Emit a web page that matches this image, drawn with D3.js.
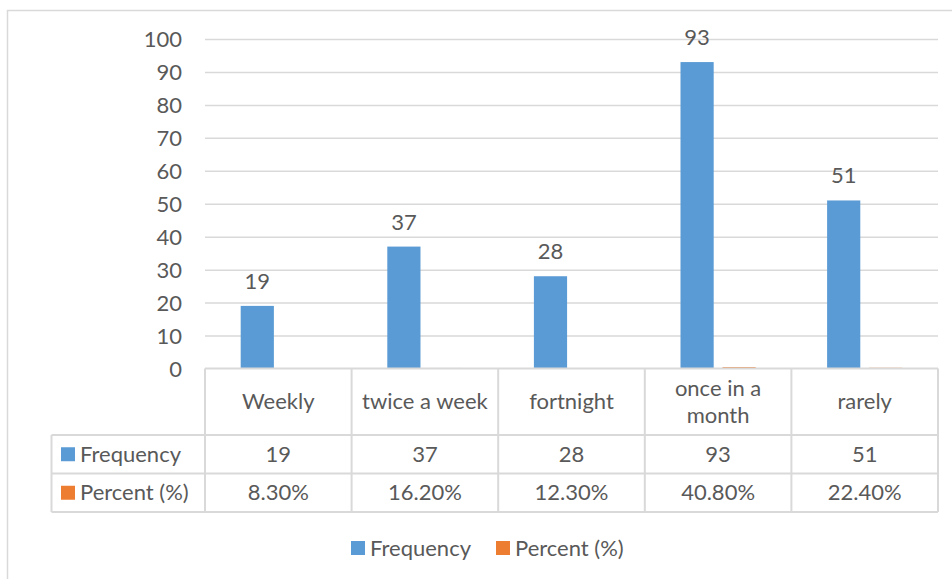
<!DOCTYPE html>
<html>
<head>
<meta charset="utf-8">
<script src="https://cdn.jsdelivr.net/npm/d3@7"></script>
<style>
  html, body { margin: 0; padding: 0; background: #fff; }
  svg text { font-family: Lato, "Open Sans", sans-serif; fill: #595959; }
</style>
</head>
<body>
<svg id="chart" width="952" height="579"></svg>
<script>
// Visit frequency survey: counts and share of respondents
const categories = ["Weekly", "twice a week", "fortnight", "once in a month", "rarely"];
const categoryLines = [["Weekly"], ["twice a week"], ["fortnight"], ["once in a", "month"], ["rarely"]];
const frequency = [19, 37, 28, 93, 51];
const percent = [0.083, 0.162, 0.123, 0.408, 0.224];
const percentLabels = ["8.30%", "16.20%", "12.30%", "40.80%", "22.40%"];
const seriesNames = ["Frequency", "Percent (%)"];
const seriesColors = ["#5B9BD5", "#ED7D31"];
const yTicks = [0, 10, 20, 30, 40, 50, 60, 70, 80, 90, 100];

const svg = d3.select("#chart");
const grid = "#d9d9d9";
const FS = 22;

// chart frame
svg.append("rect").attr("x", 7.5).attr("y", 10.5).attr("width", 960).attr("height", 600)
  .attr("fill", "none").attr("stroke", grid).attr("stroke-width", 1.5);

const plotL = 205, plotR = 938, plotT = 39, plotB = 368.5;

const x = d3.scaleBand().domain(categories).range([plotL, plotR]).paddingInner(0).paddingOuter(0);
const y = d3.scaleLinear().domain([0, 100]).range([plotB, plotT]);

// inner scale placing the two series inside each category
const inner = d3.scaleBand().domain(seriesNames)
  .range([x.bandwidth() * 0.2435, x.bandwidth() * 0.7565]).paddingInner(0.21).paddingOuter(0);

// gridlines and y labels via d3 axis
const yAxis = d3.axisLeft(y).tickValues(yTicks).tickSize(-(plotR - plotL)).tickPadding(23);
const gy = svg.append("g").attr("transform", `translate(${plotL},0)`).call(yAxis);
gy.select(".domain").remove();
gy.selectAll(".tick line").attr("stroke", grid).attr("stroke-width", 1.5)
  .filter(d => d === 0).remove();
gy.selectAll(".tick text").attr("font-size", FS).attr("font-family", "Lato, sans-serif")
  .attr("fill", "#595959").attr("dy", "0.35em");

// bars
const seriesData = [frequency, percent];
seriesData.forEach((vals, si) => {
  svg.append("g").selectAll("rect").data(vals).join("rect")
    .attr("x", (d, i) => x(categories[i]) + inner(seriesNames[si]))
    .attr("y", d => y(d))
    .attr("width", inner.bandwidth())
    .attr("height", d => Math.max(0, y(0) - y(d)))
    .attr("fill", seriesColors[si]);
});

// data labels on Frequency bars
svg.append("g").selectAll("text").data(frequency).join("text")
  .attr("x", (d, i) => x(categories[i]) + inner(seriesNames[0]) + inner.bandwidth() / 2)
  .attr("y", d => y(d) - 17)
  .attr("text-anchor", "middle").attr("font-size", FS)
  .text(d => d);

// data table under the plot
const rowTop = [plotB, 435, 473.5];
const rowBot = [435, 473.5, 512];
const tableLeft = 51.5;
const tg = svg.append("g");
const line = (x1, y1, x2, y2) => tg.append("line").attr("x1", x1).attr("y1", y1).attr("x2", x2).attr("y2", y2)
  .attr("stroke", grid).attr("stroke-width", 2);

// horizontal rules
line(plotL, plotB, plotR, plotB);
line(tableLeft, rowTop[1], plotR, rowTop[1]);
line(tableLeft, rowTop[2], plotR, rowTop[2]);
line(tableLeft, rowBot[2], plotR, rowBot[2]);
// vertical rules
categories.forEach(c => line(x(c), plotB, x(c), rowBot[2]));
line(plotR, plotB, plotR, rowBot[2]);
line(tableLeft, rowTop[1], tableLeft, rowBot[2]);

// header cells
categoryLines.forEach((lines, i) => {
  const cx = x(categories[i]) + x.bandwidth() / 2;
  const cy = (rowTop[0] + rowBot[0]) / 2;
  lines.forEach((t, k) => {
    tg.append("text").attr("x", cx).attr("y", cy + (k - (lines.length - 1) / 2) * 27)
      .attr("dy", "0.35em").attr("text-anchor", "middle").attr("font-size", FS).text(t);
  });
});

// value rows
const rowVals = [frequency.map(String), percentLabels];
rowVals.forEach((vals, r) => {
  const cy = (rowTop[r + 1] + rowBot[r + 1]) / 2;
  vals.forEach((v, i) => {
    tg.append("text").attr("x", x(categories[i]) + x.bandwidth() / 2).attr("y", cy)
      .attr("dy", "0.35em").attr("text-anchor", "middle").attr("font-size", FS).text(v);
  });
  tg.append("rect").attr("x", 61).attr("y", cy - 7).attr("width", 14).attr("height", 14)
    .attr("fill", seriesColors[r]);
  tg.append("text").attr("x", 80).attr("y", cy).attr("dy", "0.35em")
    .attr("font-size", FS).text(seriesNames[r]);
});

// legend
const legend = svg.append("g");
const legendX = [351, 496];
seriesNames.forEach((n, i) => {
  legend.append("rect").attr("x", legendX[i]).attr("y", 541).attr("width", 14).attr("height", 14)
    .attr("fill", seriesColors[i]);
  legend.append("text").attr("x", legendX[i] + 19).attr("y", 548).attr("dy", "0.35em")
    .attr("font-size", FS).text(n);
});
</script>
</body>
</html>
